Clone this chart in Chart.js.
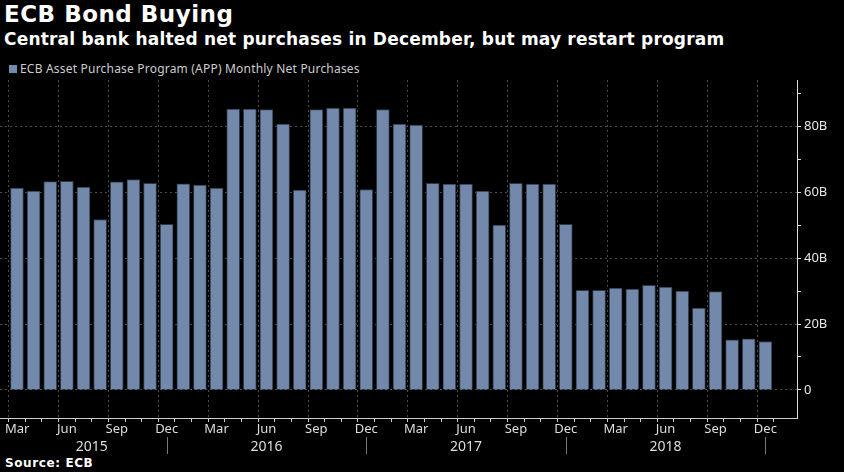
<!DOCTYPE html>
<html>
<head>
<meta charset="utf-8">
<script src="https://cdn.jsdelivr.net/npm/chart.js@4/dist/chart.umd.min.js"></script>
<style>
  body { margin: 0; background: #000; width: 844px; height: 472px; overflow: hidden; position: relative; font-family: "Noto Sans", sans-serif; }
  .txt { position: absolute; white-space: nowrap; }
  #title { left: 4px; top: 3px; color: #fff; font-family: "DejaVu Sans", sans-serif; font-weight: bold; font-size: 23px; line-height: 23px; letter-spacing: 0.5px; }
  #subtitle { left: 4px; top: 31px; color: #fff; font-family: "DejaVu Sans", sans-serif; font-weight: bold; font-size: 17px; line-height: 17px; letter-spacing: 0.2px; }
  #legend { left: 9px; top: 62px; color: #ccc; font-size: 12px; line-height: 14px; letter-spacing: 0.2px; }
  #legend span { display: inline-block; width: 8px; height: 8px; background: #7389ab; margin-right: 3px; }
  #source { left: 5px; top: 456px; color: #fff; font-family: "DejaVu Sans", sans-serif; font-weight: bold; font-size: 12px; line-height: 14px; letter-spacing: 0.6px; }
  canvas { position: absolute; left: 0; top: 0; }
</style>
</head>
<body>
<div class="txt" id="title">ECB Bond Buying</div>
<div class="txt" id="subtitle">Central bank halted net purchases in December, but may restart program</div>
<div class="txt" id="legend"><span></span>ECB Asset Purchase Program (APP) Monthly Net Purchases</div>
<div class="txt" id="source">Source: ECB</div>
<canvas id="chart" width="844" height="472"></canvas>
<script>
// months from Mar 2015 to Dec 2018
const months = [
  'Mar', 'Apr', 'May', 'Jun', 'Jul', 'Aug', 'Sep', 'Oct', 'Nov', 'Dec',
  'Jan', 'Feb', 'Mar', 'Apr', 'May', 'Jun', 'Jul', 'Aug', 'Sep', 'Oct', 'Nov', 'Dec',
  'Jan', 'Feb', 'Mar', 'Apr', 'May', 'Jun', 'Jul', 'Aug', 'Sep', 'Oct', 'Nov', 'Dec',
  'Jan', 'Feb', 'Mar', 'Apr', 'May', 'Jun', 'Jul', 'Aug', 'Sep', 'Oct', 'Nov', 'Dec'
];
const years = ['2015', '2016', '2017', '2018'];

// net purchases, billions of euros
const purchases = [
  61.2, 60.3, 63.2, 63.3, 61.5, 51.7, 63.1, 63.8, 62.7, 50.2,
  62.5, 62.1, 61.2, 85.2, 85.2, 85.0, 80.6, 60.6, 85.0, 85.5, 85.5, 60.8,
  85.0, 80.6, 80.3, 62.7, 62.4, 62.4, 60.3, 50.0, 62.7, 62.4, 62.4, 50.2,
  30.2, 30.2, 30.9, 30.6, 31.7, 31.2, 30.0, 24.8, 29.8, 15.2, 15.5, 14.7
];

const yTicks = [0, 10, 20, 30, 40, 50, 60, 70, 80, 90];
const quarterMonths = ['Mar', 'Jun', 'Sep', 'Dec'];

// month + year labels under the axis
const timeLabels = {
  id: 'timeLabels',
  afterDraw(chart) {
    const ctx = chart.ctx;
    const x = chart.scales.x;
    ctx.save();
    ctx.fillStyle = '#ddd';
    ctx.textBaseline = 'alphabetic';
    ctx.font = '13px "Noto Sans"';
    months.forEach((m, i) => {
      if (!quarterMonths.includes(m)) return;
      const w = ctx.measureText(m).width;
      let px = x.getPixelForValue(i);
      px = Math.max(px, 5 + w / 2);
      ctx.textAlign = 'center';
      ctx.fillText(m, px, 433);
    });
    // year spans end on each December
    const decIdx = months.map((m, i) => m === 'Dec' ? i : -1).filter(i => i >= 0);
    ctx.font = '14px "Noto Sans"';
    ctx.strokeStyle = '#777';
    ctx.lineWidth = 1;
    decIdx.forEach((d, k) => {
      const start = k === 0 ? 0 : decIdx[k - 1];
      const p0 = x.getPixelForValue(start);
      const p1 = x.getPixelForValue(d);
      ctx.textAlign = 'center';
      ctx.fillText(years[k], (p0 + p1) / 2, 451);
      ctx.beginPath();
      ctx.moveTo(Math.round(p1) + 0.5, 437);
      ctx.lineTo(Math.round(p1) + 0.5, 454);
      ctx.stroke();
    });
    ctx.restore();
  }
};

const ctx = document.getElementById('chart').getContext('2d');
const chart = new Chart(ctx, {
  type: 'bar',
  data: {
    datasets: [{
      label: 'ECB Asset Purchase Program (APP) Monthly Net Purchases',
      data: purchases.map((v, i) => ({ x: i, y: v })),
      backgroundColor: '#7389ab',
      borderColor: '#2b3947',
      borderWidth: 1,
      barThickness: 13
    }]
  },
  options: {
    responsive: false,
    animation: false,
    layout: { padding: { top: 80, left: 0, right: 0, bottom: 0 } },
    plugins: {
      legend: { display: false },
      tooltip: { enabled: false }
    },
    scales: {
      x: {
        type: 'linear',
        min: -0.5,
        max: 46.38,
        afterBuildTicks: s => { s.ticks = months.map((m, i) => ({ value: i })); },
        afterFit: s => { s.height = 54; s.paddingLeft = 0; s.paddingRight = 0; },
        ticks: { display: false },
        grid: {
          color: c => (c.tick && c.tick.value % 3 === 0) ? '#4d4d4d' : 'rgba(0,0,0,0)',
          tickColor: '#ccc',
          tickLength: 4,
          lineWidth: 1
        },
        border: { display: true, color: '#ccc', width: 1, dash: [2, 3] }
      },
      y: {
        position: 'right',
        min: -8.5,
        max: 94,
        afterBuildTicks: s => { s.ticks = yTicks.map(v => ({ value: v })); },
        afterFit: s => { s.width = 47; },
        ticks: {
          color: '#e6e6e6',
          font: { family: 'Noto Sans', size: 13 },
          padding: 3,
          callback: v => v === 0 ? '0' : (v % 20 === 0 ? v + 'B' : '')
        },
        grid: {
          color: c => (c.tick && c.tick.value % 20 === 0) ? '#4d4d4d' : 'rgba(0,0,0,0)',
          tickColor: '#ddd',
          tickLength: 4
        },
        border: { display: true, color: '#ddd', width: 1, dash: [2, 3] }
      }
    }
  },
  plugins: [timeLabels]
});
</script>
</body>
</html>
